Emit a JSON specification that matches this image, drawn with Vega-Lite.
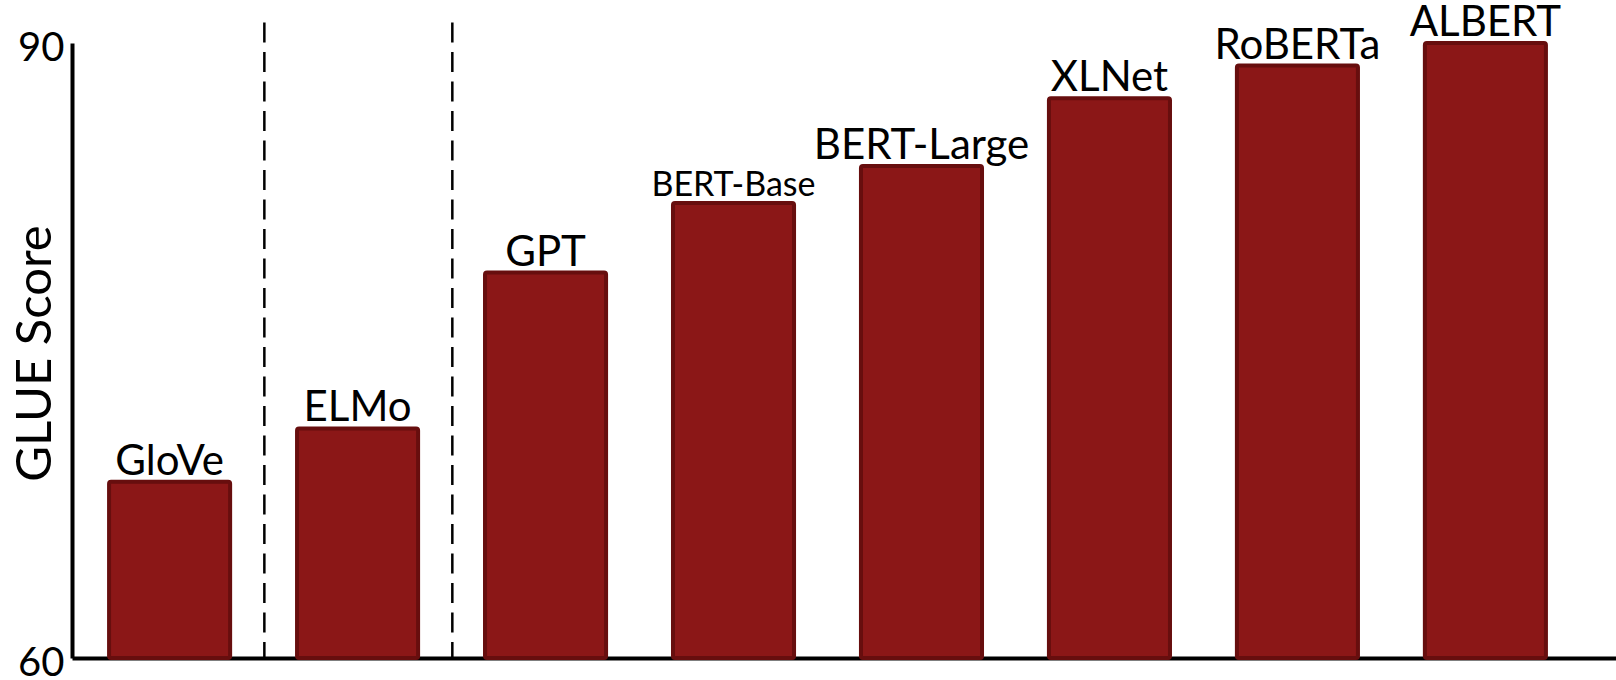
{
  "$schema": "https://vega.github.io/schema/vega-lite/v6.json",
  "width": 1544,
  "height": 615,
  "autosize": {"type": "none"},
  "padding": {"left": 72, "top": 43, "right": 0, "bottom": 22},
  "background": "white",
  "config": {
    "view": {"stroke": null},
    "font": "Lato",
    "axis": {"zindex": 1}
  },
  "datasets": {
    "scores": [
      {"model": "GloVe", "score": 68.6},
      {"model": "ELMo", "score": 71.2},
      {"model": "GPT", "score": 78.8},
      {"model": "BERT-Base", "score": 82.2},
      {"model": "BERT-Large", "score": 84.0},
      {"model": "XLNet", "score": 87.3},
      {"model": "RoBERTa", "score": 88.9},
      {"model": "ALBERT", "score": 90.0}
    ],
    "separators": [
      {"next": "ELMo"},
      {"next": "GPT"}
    ]
  },
  "layer": [
    {
      "data": {"name": "scores"},
      "mark": {
        "type": "bar",
        "fill": "#8B1717",
        "stroke": "#670E0E",
        "strokeWidth": 4,
        "cornerRadius": 2
      },
      "encoding": {
        "x": {
          "field": "model",
          "type": "nominal",
          "scale": {
            "domain": ["GloVe", "ELMo", "GPT", "BERT-Base", "BERT-Large", "XLNet", "RoBERTa", "ALBERT"],
            "paddingInner": 0.356,
            "paddingOuter": 0.285,
            "align": 0.346
          },
          "axis": {
            "title": null,
            "labels": false,
            "ticks": false,
            "domainColor": "black",
            "domainWidth": 4
          }
        },
        "y": {
          "field": "score",
          "type": "quantitative",
          "scale": {"domain": [60, 90], "zero": false, "nice": false},
          "axis": {
            "title": "GLUE Score",
            "values": [60, 90],
            "grid": false,
            "ticks": false,
            "tickSize": 0,
            "domainColor": "black",
            "domainWidth": 4,
            "labelFont": "Lato",
            "labelFontSize": 40,
            "labelColor": "black",
            "labelPadding": 8,
            "labelOffset": 5,
            "titleFont": "Lato",
            "titleFontSize": 49,
            "titleFontWeight": "normal",
            "titleColor": "black",
            "titleAngle": -90,
            "titleAlign": "center",
            "titleBaseline": "middle",
            "titleX": -37,
            "titleY": 310
          }
        },
        "y2": {"datum": 60}
      }
    },
    {
      "data": {"name": "scores"},
      "mark": {
        "type": "text",
        "baseline": "alphabetic",
        "align": "center",
        "dy": -7,
        "color": "black",
        "font": "Lato"
      },
      "encoding": {
        "x": {"field": "model", "type": "nominal"},
        "y": {"field": "score", "type": "quantitative"},
        "text": {"field": "model"},
        "size": {
          "condition": {"test": "datum.model === 'BERT-Base'", "value": 34},
          "value": 42
        }
      }
    },
    {
      "data": {"name": "separators"},
      "mark": {
        "type": "rule",
        "color": "black",
        "strokeWidth": 2.5,
        "strokeDash": [20, 9.5]
      },
      "encoding": {
        "x": {"field": "next", "type": "nominal", "bandPosition": -0.27},
        "y": {"datum": 91, "type": "quantitative"},
        "y2": {"datum": 60}
      }
    }
  ]
}
